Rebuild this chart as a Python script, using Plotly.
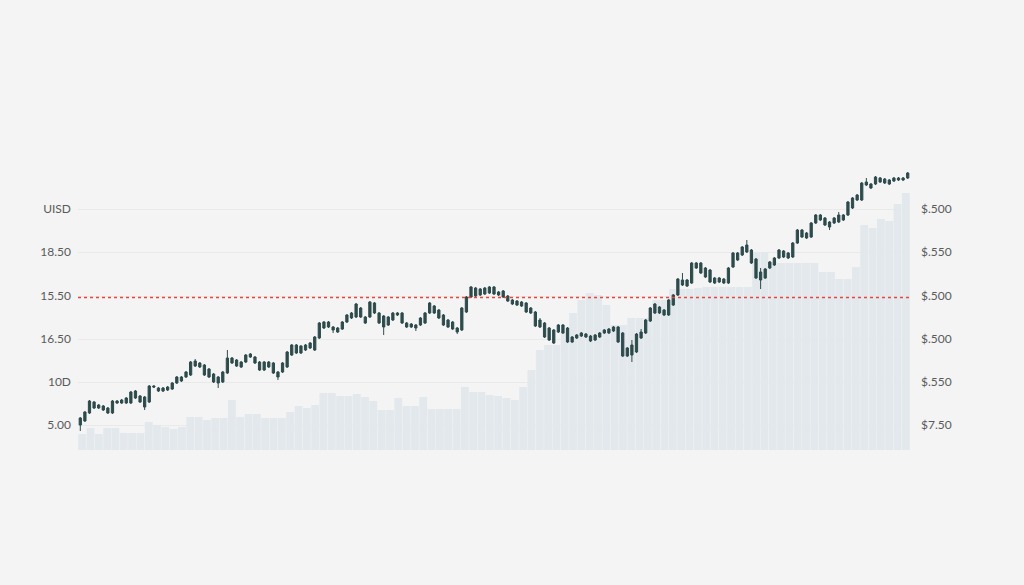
import plotly.graph_objects as go

# daily candles, price units
open_ = [
    2.5, 2.9, 3.7, 4.8, 4.2, 4.4, 4.2, 3.7, 4.9, 4.7,
    4.7, 4.7, 5.9, 5.4, 5.3, 4.8, 6.4, 6.2, 5.9, 6.0,
    6.1, 6.7, 7.3, 7.3, 7.5, 8.9, 8.3, 8.5, 8.1, 7.6,
    7.3, 6.8, 7.7, 9.2, 9.0, 8.3, 8.8, 9.6, 9.3, 8.8,
    8.0, 8.8, 8.7, 7.8, 7.8, 8.3, 9.5, 10.5, 9.7, 10.0,
    10.2, 10.0, 11.2, 12.8, 12.3, 12.3, 12.2, 12.1, 12.8, 13.2,
    13.3, 14.2, 13.3, 13.3, 14.7, 13.7, 13.4, 12.5, 13.0, 13.7,
    13.7, 12.7, 12.3, 12.5, 12.5, 12.7, 13.7, 14.4, 14.0, 13.5,
    13.0, 12.8, 12.2, 12.0, 13.8, 15.3, 16.2, 15.5, 15.6, 15.7,
    16.3, 15.8, 15.9, 15.4, 15.0, 14.9, 14.4, 14.7, 14.2, 13.8,
    12.3, 12.7, 12.2, 12.0, 11.8, 12.5, 12.2, 10.8, 11.2, 11.4,
    11.6, 11.4, 11.0, 11.3, 11.7, 11.7, 11.9, 12.3, 11.7, 9.4,
    9.5, 9.8, 11.2, 11.7, 12.9, 13.7, 14.3, 14.0, 13.5, 14.5,
    15.5, 17.0, 16.4, 16.7, 18.7, 18.7, 18.2, 18.0, 17.2, 16.8,
    17.1, 16.7, 18.3, 19.7, 19.5, 19.8, 20.0, 19.1, 17.8, 17.2,
    18.2, 18.5, 19.2, 19.9, 19.7, 19.3, 20.7, 22.0, 21.7, 21.3,
    22.7, 23.5, 23.2, 22.8, 22.7, 22.8, 23.5, 23.5, 24.2, 25.0,
    25.0, 26.8, 26.6, 26.6, 27.2, 27.1, 26.6, 26.9, 27.0, 27.0, 27.2,
]
close = [
    3.2, 3.8, 4.9, 4.2, 4.5, 4.0, 3.7, 4.9, 4.7, 5.0,
    5.2, 5.8, 5.2, 4.8, 4.3, 6.4, 6.3, 5.9, 6.2, 6.3,
    6.7, 7.3, 6.9, 7.8, 8.8, 8.4, 8.7, 7.5, 7.3, 6.8,
    6.7, 7.8, 9.2, 8.7, 8.4, 8.8, 9.5, 9.3, 8.7, 8.0,
    8.8, 8.3, 7.7, 7.3, 8.7, 9.8, 10.5, 9.7, 10.4, 10.5,
    10.7, 11.3, 12.7, 12.2, 12.8, 12.0, 11.8, 12.8, 13.5, 13.7,
    14.6, 13.3, 12.7, 14.8, 13.7, 12.7, 12.3, 13.3, 13.7, 13.5,
    12.7, 12.3, 12.6, 12.2, 13.2, 13.7, 14.7, 13.7, 13.2, 12.5,
    12.3, 12.1, 11.8, 14.2, 15.3, 16.3, 15.4, 16.1, 16.2, 16.3,
    15.6, 15.5, 15.3, 14.9, 14.6, 14.5, 14.8, 13.8, 13.7, 12.4,
    13.0, 11.3, 11.0, 10.7, 12.5, 11.7, 10.8, 11.3, 11.5, 11.7,
    11.3, 10.9, 11.5, 11.7, 12.0, 12.1, 12.3, 10.8, 9.4, 10.2,
    10.5, 11.6, 11.8, 13.0, 14.2, 14.6, 13.7, 13.5, 15.0, 15.5,
    17.1, 16.5, 17.0, 18.7, 18.2, 17.7, 17.3, 16.8, 16.7, 17.2,
    16.7, 18.2, 19.7, 19.0, 20.3, 20.5, 18.7, 17.2, 17.0, 18.1,
    18.8, 19.2, 20.0, 19.3, 19.2, 20.7, 22.0, 21.3, 21.2, 22.7,
    23.5, 23.0, 22.5, 22.3, 23.2, 23.5, 23.0, 24.8, 25.2, 25.5,
    26.7, 26.5, 26.2, 27.3, 26.8, 26.7, 27.0, 27.2, 27.2, 27.2, 27.7,
]
high = [
    3.3, 3.9, 5.0, 4.9, 4.6, 4.5, 4.3, 5.0, 5.0, 5.1,
    5.3, 5.9, 6.0, 5.5, 5.4, 6.5, 6.5, 6.3, 6.3, 6.4,
    6.8, 7.4, 7.4, 7.9, 8.9, 9.1, 8.8, 8.6, 8.2, 7.7,
    7.4, 7.9, 10.0, 9.3, 9.1, 8.9, 9.6, 9.7, 9.4, 8.9,
    8.9, 8.9, 8.8, 7.9, 8.8, 9.9, 10.6, 10.6, 10.5, 10.6,
    10.8, 11.4, 12.8, 12.9, 12.9, 12.4, 12.3, 12.9, 13.6, 13.8,
    14.7, 14.3, 13.4, 14.9, 14.8, 13.8, 13.5, 13.4, 13.8, 13.8,
    13.8, 12.8, 12.7, 12.6, 13.3, 13.8, 14.8, 14.5, 14.1, 13.6,
    13.1, 12.9, 12.3, 14.3, 15.4, 16.4, 16.3, 16.2, 16.3, 16.4,
    16.4, 15.9, 16.0, 15.5, 15.1, 15.0, 14.9, 14.8, 14.3, 13.9,
    13.2, 12.8, 12.3, 12.1, 12.6, 12.6, 12.3, 11.4, 11.6, 11.8,
    11.7, 11.5, 11.6, 11.8, 12.1, 12.2, 12.4, 12.4, 11.8, 10.3,
    11.0, 11.7, 12.1, 13.1, 14.3, 14.7, 14.4, 14.1, 15.1, 15.6,
    17.2, 17.7, 17.1, 18.8, 18.8, 18.8, 18.3, 18.1, 17.3, 17.3,
    17.2, 18.3, 19.8, 19.8, 20.4, 21.0, 20.1, 19.2, 18.2, 18.2,
    18.9, 19.3, 20.1, 20.0, 19.8, 20.8, 22.1, 22.1, 21.8, 22.8,
    23.6, 23.6, 23.3, 22.9, 23.3, 23.8, 23.6, 24.9, 25.3, 25.6,
    26.8, 27.2, 26.7, 27.4, 27.3, 27.2, 27.1, 27.3, 27.3, 27.3, 27.8,
]
low = [
    1.9, 2.8, 3.6, 4.1, 4.1, 3.9, 3.6, 3.6, 4.6, 4.6,
    4.6, 4.6, 5.1, 4.7, 4.0, 4.7, 6.2, 5.8, 5.8, 5.9,
    6.0, 6.6, 6.8, 7.2, 7.4, 8.3, 8.2, 7.4, 7.2, 6.7,
    6.2, 6.7, 7.6, 8.6, 8.3, 8.2, 8.7, 9.2, 8.6, 7.9,
    7.9, 8.2, 7.6, 7.0, 7.7, 8.2, 9.4, 9.6, 9.6, 9.9,
    10.1, 9.9, 11.1, 12.1, 12.2, 11.7, 11.7, 12.0, 12.7, 13.1,
    13.2, 13.2, 12.6, 13.2, 13.6, 12.6, 11.5, 12.4, 12.9, 13.4,
    12.6, 12.2, 12.2, 11.9, 12.4, 12.6, 13.6, 13.6, 13.1, 12.4,
    12.2, 12.0, 11.6, 11.9, 13.7, 15.2, 15.3, 15.4, 15.5, 15.6,
    15.5, 15.4, 15.2, 14.8, 14.5, 14.4, 14.3, 13.7, 13.6, 12.3,
    12.2, 11.2, 10.9, 10.6, 11.7, 11.6, 10.7, 10.7, 11.1, 11.3,
    11.2, 10.8, 10.9, 11.2, 11.6, 11.6, 11.8, 10.7, 9.3, 9.3,
    8.8, 9.7, 11.1, 11.6, 12.8, 13.6, 13.6, 13.4, 13.4, 14.4,
    15.4, 16.4, 16.3, 16.6, 18.1, 17.6, 17.2, 16.7, 16.6, 16.7,
    16.6, 16.6, 18.2, 18.9, 19.4, 19.7, 18.6, 17.1, 16.1, 17.1,
    18.1, 18.4, 19.1, 19.2, 19.1, 19.2, 20.6, 21.2, 21.1, 21.2,
    22.6, 22.9, 22.4, 22.0, 22.6, 22.7, 22.9, 23.4, 24.1, 24.9,
    24.9, 26.4, 26.1, 26.5, 26.7, 26.6, 26.5, 26.8, 26.9, 26.9, 27.1,
]

# volume, sampled on its own coarser grid
volume = [
    1.6, 2.2, 1.6, 2.2, 2.2, 1.7, 1.7, 1.7, 2.8, 2.5,
    2.3, 2.1, 2.3, 3.3, 3.3, 3.0, 3.2, 3.2, 5.0, 3.3,
    3.6, 3.6, 3.2, 3.2, 3.2, 3.8, 4.4, 4.2, 4.5, 5.7,
    5.7, 5.4, 5.4, 5.6, 5.3, 4.9, 4.0, 4.0, 5.2, 4.4,
    4.4, 5.3, 4.1, 4.1, 4.1, 4.1, 6.3, 5.8, 5.8, 5.5,
    5.4, 5.2, 5.0, 6.3, 8.0, 10.0, 10.5, 10.5, 11.7, 13.7,
    15.0, 15.7, 15.5, 14.5, 12.5, 12.5, 13.2, 13.2, 13.2, 15.0,
    15.0, 16.1, 16.1, 16.1, 16.2, 16.3, 16.3, 16.3, 16.3, 16.3,
    16.3, 19.8, 19.8, 18.8, 18.7, 18.7, 18.7, 18.7, 18.7, 17.8,
    17.8, 17.1, 17.1, 18.3, 22.5, 22.2, 23.1, 22.9, 24.6, 25.7,
]

tick_vals = [2.5, 6.8, 11.1, 15.4, 19.8, 24.1]
left_labels = ["5.00", "10D", "16.50", "15.50", "18.50", "UISD"]
right_labels = ["$7.50", "$.550", "$.500", "$.500", "$.550", "$.500"]
ref_level = 15.25

DARK = "#2e4b4c"
BG = "#f4f4f4"
tick_font = dict(family="Lato", size=12, color="#5a5a5a")

fig = go.Figure()

fig.add_trace(go.Bar(
    x=list(range(len(volume))),
    y=volume,
    marker=dict(color="#e2e8ec", line=dict(width=0)),
    xaxis="x", yaxis="y",
    hoverinfo="skip",
))

fig.add_trace(go.Candlestick(
    x=list(range(len(close))),
    open=open_, high=high, low=low, close=close,
    xaxis="x2", yaxis="y2",
    increasing=dict(line=dict(color=DARK, width=1), fillcolor=DARK),
    decreasing=dict(line=dict(color=DARK, width=1), fillcolor=DARK),
    whiskerwidth=0,
))

fig.add_shape(
    type="line", xref="paper", x0=0, x1=1, yref="y2", y0=ref_level, y1=ref_level,
    line=dict(color="#e8453c", width=1.4, dash="dot"),
)

fig.update_layout(
    width=1024,
    height=585,
    margin=dict(l=78, r=114, t=165, b=135),
    paper_bgcolor=BG,
    plot_bgcolor=BG,
    showlegend=False,
    bargap=0.06,
    xaxis=dict(range=[-0.5, len(volume) - 0.5], visible=False),
    xaxis2=dict(
        overlaying="x", range=[-0.5, len(close) - 0.5], visible=False,
        rangeslider=dict(visible=False),
    ),
    yaxis=dict(
        side="right", range=[0, 28.5], tickvals=tick_vals, ticktext=right_labels,
        showgrid=True, gridcolor="#e9e9e9", zeroline=False, showline=False,
        tickfont=tick_font, ticklabelstandoff=10,
    ),
    yaxis2=dict(
        overlaying="y", side="left", range=[0, 28.5], tickvals=tick_vals,
        ticktext=left_labels, showgrid=False, zeroline=False, showline=False,
        tickfont=tick_font, ticklabelstandoff=6,
    ),
)

# drop the browser's default page margin so the figure sits at (0, 0)
fig.write_html(
    "out.html",
    config={"displayModeBar": False},
    post_script="document.body.style.margin='0';"
                "document.body.style.background='#f4f4f4';",
)
